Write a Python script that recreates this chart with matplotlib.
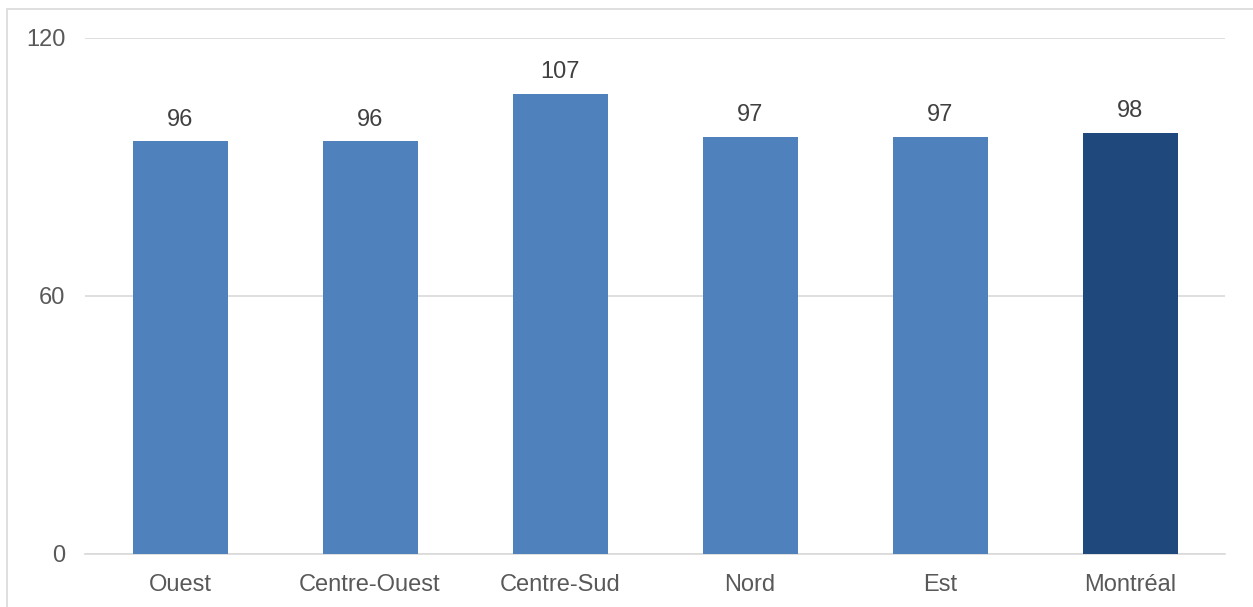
import matplotlib
matplotlib.use("Agg")
import matplotlib.pyplot as plt
from matplotlib.patches import Rectangle

categories = ["Ouest", "Centre-Ouest", "Centre-Sud", "Nord", "Est", "Montréal"]
values = [96, 96, 107, 97, 97, 98]
colors = ["#4F81BD"] * 5 + ["#1F497D"]
yticks = [0, 60, 120]

plt.rcParams['font.family'] = ['Liberation Sans', 'DejaVu Sans']

W, H = 1253, 607
fig = plt.figure(figsize=(W / 100, H / 100), dpi=100)
ax = fig.add_axes([85 / W, 1 - 554 / H, (1225 - 85) / W, (554 - 38) / H])

x = range(len(categories))
bars = ax.bar(x, values, width=0.5, color=colors, zorder=3)
for xi, v in zip(x, values):
    ax.annotate(str(v), (xi, v), xytext=(0, 7.5), textcoords="offset points",
                ha="center", va="bottom", fontsize=17, color="#404040")

ax.set_xlim(-0.5, len(categories) - 0.5)
ax.set_ylim(0, 120)
ax.set_yticks(yticks)
ax.set_xticks(list(x))
ax.set_xticklabels(categories)
ax.tick_params(axis="both", length=0, labelsize=17, labelcolor="#595959")
ax.tick_params(axis="y", pad=14)
ax.tick_params(axis="x", pad=14.5)
ax.grid(axis="y", color="#D9D9D9", linewidth=1.2, zorder=0)
for s in ["top", "right", "left"]:
    ax.spines[s].set_visible(False)
ax.spines["bottom"].set_color("#D9D9D9")
ax.spines["bottom"].set_linewidth(1.2)

fig.patches.append(Rectangle((7 / W, -0.1), 1.2, 1 - 9 / H + 0.1,
                             transform=fig.transFigure, fill=False,
                             edgecolor="#D9D9D9", linewidth=1.2))

fig.savefig("out.png", dpi=100)
